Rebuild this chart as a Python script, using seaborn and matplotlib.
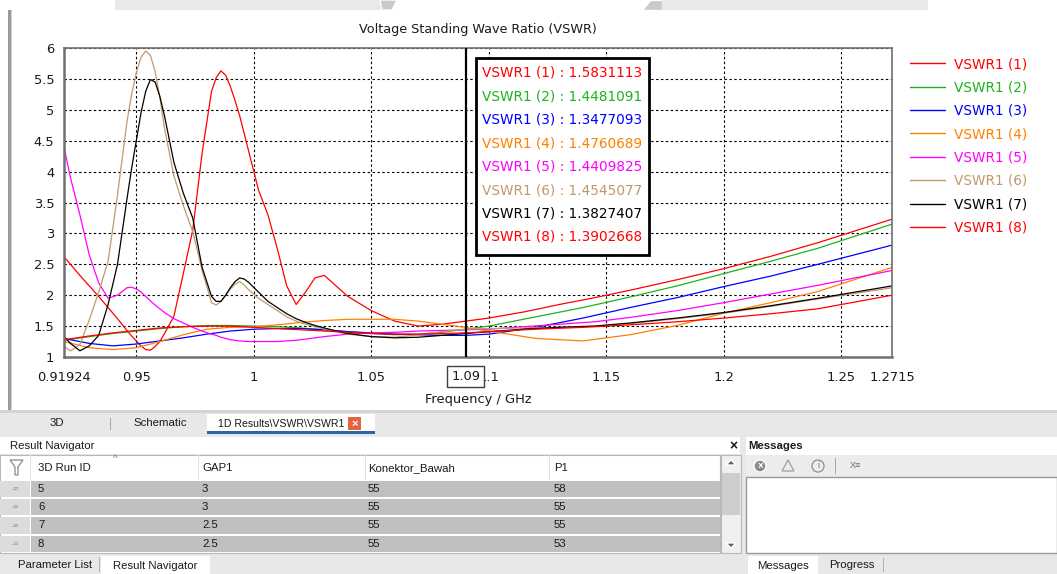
import pandas as pd
import matplotlib
matplotlib.use("Agg")
import matplotlib.pyplot as plt
import matplotlib.transforms as mtransforms
from matplotlib.patches import Rectangle, Polygon
from matplotlib.lines import Line2D
import seaborn as sns

# ---- data ----
SERIES = ["VSWR1 (1)", "VSWR1 (2)", "VSWR1 (3)", "VSWR1 (4)",
          "VSWR1 (5)", "VSWR1 (6)", "VSWR1 (7)", "VSWR1 (8)"]
COLORS = ["#ff0000", "#1db31d", "#0000ff", "#ff8000",
          "#ff00ff", "#c09a6b", "#000000", "#ff0000"]
MARKER_VALUES = ["1.5831113", "1.4481091", "1.3477093", "1.4760689",
                 "1.4409825", "1.4545077", "1.3827407", "1.3902668"]
MARKER_FREQ = 1.0902

FREQ_FINE = [0.91924, 0.922, 0.926, 0.930, 0.934, 0.938, 0.942, 0.946, 0.948, 0.950,
             0.952, 0.954, 0.956, 0.958, 0.960, 0.962, 0.966, 0.970, 0.974, 0.978,
             0.982, 0.984, 0.986, 0.988, 0.990, 0.992, 0.994, 0.996, 0.998, 1.002,
             1.006, 1.010, 1.014, 1.018, 1.022, 1.026, 1.030, 1.035, 1.040, 1.050,
             1.060, 1.070, 1.080, 1.090, 1.100, 1.115, 1.130, 1.145, 1.160, 1.180,
             1.200, 1.220, 1.240, 1.2715]
FREQ_COARSE = [0.91924, 0.93, 0.94, 0.95, 0.96, 0.97, 0.98, 0.99, 1.00, 1.01,
               1.02, 1.03, 1.04, 1.05, 1.06, 1.07, 1.08, 1.09, 1.10, 1.12,
               1.14, 1.16, 1.18, 1.20, 1.22, 1.24, 1.2715]

vswr1 = [2.62, 2.50, 2.32, 2.15, 1.98, 1.80, 1.62, 1.43, 1.34, 1.26,
         1.18, 1.12, 1.11, 1.17, 1.25, 1.38, 1.66, 2.35, 3.05, 4.30,
         5.30, 5.52, 5.63, 5.56, 5.38, 5.15, 4.90, 4.60, 4.30, 3.70,
         3.30, 2.75, 2.15, 1.85, 2.05, 2.28, 2.32, 2.15, 1.98, 1.75,
         1.58, 1.50, 1.53, 1.58, 1.63, 1.73, 1.85, 1.96, 2.08, 2.25,
         2.43, 2.63, 2.85, 3.23]
vswr2 = [1.27, 1.33, 1.38, 1.42, 1.46, 1.49, 1.51, 1.51, 1.50, 1.49,
         1.47, 1.44, 1.41, 1.38, 1.36, 1.37, 1.40, 1.45, 1.50, 1.65,
         1.80, 1.97, 2.15, 2.35, 2.55, 2.76, 3.15]
vswr3 = [1.30, 1.22, 1.18, 1.21, 1.26, 1.31, 1.37, 1.42, 1.45, 1.46,
         1.46, 1.44, 1.41, 1.39, 1.37, 1.36, 1.35, 1.35, 1.37, 1.48,
         1.63, 1.80, 1.96, 2.14, 2.31, 2.50, 2.81]
vswr4 = [1.25, 1.15, 1.12, 1.15, 1.25, 1.36, 1.45, 1.48, 1.49, 1.52,
         1.56, 1.59, 1.61, 1.61, 1.61, 1.58, 1.53, 1.48, 1.42, 1.30,
         1.26, 1.36, 1.51, 1.71, 1.88, 2.06, 2.45]
vswr5 = [4.40, 3.90, 3.30, 2.65, 2.20, 1.95, 2.00, 2.12, 2.13, 2.10,
         2.05, 1.98, 1.91, 1.84, 1.78, 1.72, 1.62, 1.55, 1.48, 1.42,
         1.37, 1.35, 1.32, 1.30, 1.28, 1.27, 1.26, 1.255, 1.25, 1.25,
         1.25, 1.25, 1.26, 1.27, 1.29, 1.31, 1.33, 1.35, 1.37, 1.39,
         1.40, 1.42, 1.43, 1.44, 1.45, 1.49, 1.53, 1.57, 1.64, 1.75,
         1.88, 2.02, 2.16, 2.40]
vswr6 = [1.17, 1.10, 1.20, 1.60, 2.05, 2.55, 3.62, 4.80, 5.25, 5.60,
         5.85, 5.95, 5.88, 5.62, 5.20, 4.70, 3.93, 3.45, 3.03, 2.40,
         1.88, 1.84, 1.90, 2.00, 2.10, 2.18, 2.22, 2.16, 2.08, 1.95,
         1.85, 1.75, 1.65, 1.58, 1.53, 1.49, 1.45, 1.41, 1.37, 1.33,
         1.32, 1.36, 1.41, 1.45, 1.46, 1.47, 1.48, 1.50, 1.54, 1.62,
         1.71, 1.82, 1.94, 2.12]
vswr7 = [1.33, 1.22, 1.10, 1.18, 1.35, 1.85, 2.50, 3.55, 4.05, 4.50,
         4.95, 5.30, 5.49, 5.45, 5.22, 4.90, 4.15, 3.65, 3.25, 2.45,
         1.98, 1.90, 1.90, 2.00, 2.12, 2.22, 2.28, 2.26, 2.20, 2.05,
         1.90, 1.80, 1.70, 1.62, 1.56, 1.51, 1.47, 1.42, 1.38, 1.33,
         1.31, 1.32, 1.35, 1.38, 1.41, 1.45, 1.48, 1.50, 1.55, 1.63,
         1.72, 1.83, 1.95, 2.15]
vswr8 = [1.28, 1.34, 1.39, 1.43, 1.47, 1.49, 1.50, 1.50, 1.48, 1.46,
         1.44, 1.42, 1.40, 1.38, 1.37, 1.37, 1.38, 1.39, 1.41, 1.45,
         1.48, 1.52, 1.57, 1.63, 1.70, 1.78, 2.00]

XTICKS = [0.91924, 0.95, 1.0, 1.05, 1.1, 1.15, 1.2, 1.25, 1.2715]
XTICK_LABELS = ["0.91924", "0.95", "1", "1.05", "1.1", "1.15", "1.2", "1.25", "1.2715"]
YTICKS = [1, 1.5, 2, 2.5, 3, 3.5, 4, 4.5, 5, 5.5, 6]
YTICK_LABELS = ["1", "1.5", "2", "2.5", "3", "3.5", "4", "4.5", "5", "5.5", "6"]

# result navigator table
TABLE_HEADER = ["3D Run ID", "GAP1", "Konektor_Bawah", "P1"]
RUN_ID = ["5", "6", "7", "8"]
GAP1 = ["3", "3", "2.5", "2.5"]
KONEKTOR = ["55", "55", "55", "55"]
P1 = ["58", "55", "55", "53"]

# ---- build long table ----
freqs = [FREQ_FINE, FREQ_COARSE, FREQ_COARSE, FREQ_COARSE,
         FREQ_FINE, FREQ_FINE, FREQ_FINE, FREQ_COARSE]
values = [vswr1, vswr2, vswr3, vswr4, vswr5, vswr6, vswr7, vswr8]
frames = []
for name, fr, v in zip(SERIES, freqs, values):
    frames.append(pd.DataFrame({"freq": fr, "vswr": v, "series": name}))
df = pd.concat(frames, ignore_index=True)

sns.set_theme(style="white")
plt.rcParams["font.family"] = ["DejaVu Sans"]

W, H = 1057, 574
fig = plt.figure(figsize=(W / 100, H / 100), dpi=100)
fig.patch.set_facecolor("white")

# overlay for the window chrome, in pixel coordinates
ui = fig.add_axes([0, 0, 1, 1], zorder=0)
ui.set_xlim(0, W)
ui.set_ylim(H, 0)
ui.axis("off")


def box(x0, y0, x1, y1, fc, ec="none", lw=0):
    ui.add_patch(Rectangle((x0, y0), x1 - x0, y1 - y0, facecolor=fc,
                           edgecolor=ec, linewidth=lw))


def label(x, y, s, size=8.2, ha="left", weight="normal", color="#1a1a1a"):
    ui.text(x, y, s, fontsize=size, ha=ha, va="center", fontweight=weight,
            color=color, family="Liberation Sans")


# ---- main chart ----
ax = fig.add_axes([64 / W, 1 - 357 / H, 828 / W, 309 / H], zorder=2)
sns.lineplot(data=df, x="freq", y="vswr", hue="series",
             palette=dict(zip(SERIES, COLORS)), estimator=None,
             linewidth=0.9, legend=False, ax=ax)
ax.set_xlim(0.91924, 1.2715)
ax.set_ylim(1, 6)
ax.set_xticks(XTICKS)
ax.set_xticklabels(XTICK_LABELS)
ax.set_yticks(YTICKS)
ax.set_yticklabels(YTICK_LABELS)
ax.set_xlabel("")
ax.set_ylabel("")
ax.grid(True, color="black", linestyle=(0, (2.2, 2.2)), linewidth=0.8)
ax.tick_params(direction="out", length=4, width=1, colors="#707070",
               labelcolor="#1a1a1a", labelsize=9.4)
ax.tick_params(axis="x", pad=6)
ax.tick_params(axis="y", pad=3)
for side, sp in ax.spines.items():
    sp.set_color("#707070")
    sp.set_linewidth(1.8 if side in ("left", "bottom") else 1.2)

# marker
ax.axvline(MARKER_FREQ, color="black", lw=1.6, zorder=4)
blend = mtransforms.blended_transform_factory(ax.transData, ax.transAxes)
ax.text(MARKER_FREQ, -0.062, "1.09", transform=blend, ha="center", va="center",
        fontsize=9.4, color="#1a1a1a", zorder=6, clip_on=False,
        bbox=dict(boxstyle="square,pad=0.3", fc="white", ec="#404040", lw=1))

bx0 = (476 - 64) / 828
bx1 = (649 - 64) / 828
by_top = (357 - 58) / 309
by_bot = (357 - 255) / 309
ax.add_patch(Rectangle((bx0, by_bot), bx1 - bx0, by_top - by_bot,
                       transform=ax.transAxes, facecolor="white",
                       edgecolor="black", linewidth=2, zorder=5))
for i, (name, val, col) in enumerate(zip(SERIES, MARKER_VALUES, COLORS)):
    yc = 73 + i * 23.4
    ax.text((482 - 64) / 828, (357 - yc) / 309, f"{name} : {val}",
            transform=ax.transAxes, ha="left", va="center", fontsize=9.8,
            color=col, zorder=6)

handles = [Line2D([], [], color=c, lw=1.0) for c in COLORS]
ax.legend(handles, SERIES, loc="upper left", bbox_to_anchor=(910 / W, 1 - 57 / H),
          bbox_transform=fig.transFigure, frameon=False, fontsize=9.8,
          labelcolor=COLORS, handlelength=2.6, handletextpad=0.6,
          labelspacing=0.69, borderaxespad=0, borderpad=0)

fig.text(478 / W, 1 - 30 / H, "Voltage Standing Wave Ratio (VSWR)", ha="center",
         va="center", fontsize=9.2, color="#1a1a1a")
fig.text(478 / W, 1 - 399 / H, "Frequency / GHz", ha="center", va="center",
         fontsize=9.4, color="#1a1a1a")

# ---- window chrome ----
box(115, 0, 383, 10, "#e9e9eb")
ui.add_patch(Polygon([(380, 0), (397, 0), (392, 10), (382, 10)], fc="#cacacc"))
ui.add_patch(Polygon([(650, 0), (662, 0), (662, 10), (642, 10)], fc="#cacacc"))
box(662, 0, 928, 10, "#e9e9eb")
box(8, 10, 11, 410, "#9a9a9a")
box(11, 10, 12, 410, "#d0d0d0")

box(0, 410, W, H, "#e8e8e8")
box(0, 410, W, 413, "#d4d4d4")
box(207, 414, 375, 433, "white")
box(207, 431, 375, 434, "#2b64a8")
box(110, 418, 111, 430, "#a8a8a8")
label(57, 423, "3D", ha="center")
label(160, 423, "Schematic", ha="center")
label(218, 424, "1D Results\\VSWR\\VSWR1", size=7.6)
box(348, 417, 361, 430, "#e2653f")
label(354.5, 423.5, "×", size=8, ha="center", weight="bold", color="white")

# result navigator
box(0, 437, 740, 454, "white")
label(10, 446, "Result Navigator")
label(733, 446, "×", size=10, ha="center", weight="bold")
box(0, 455, 720, 553, "white", ec="#b8b8b8", lw=0.8)
ui.add_patch(Polygon([(10, 460), (23, 460), (18, 467), (18, 475), (15, 475), (15, 467)],
                     fc="none", ec="#8a8a8a", lw=0.9))
for xs in (30, 198, 365, 549):
    box(xs, 455, xs + 1, 480, "#e2e2e2")
label(115, 459, "^", size=6.5, ha="center", color="#707070")
col_x = [38, 202, 368, 554]
for cx, head in zip(col_x, TABLE_HEADER):
    label(cx, 468, head)
row_spans = [(481, 497), (499, 515), (517, 534), (536, 552)]
for (y0, y1), rid, gap, kon, p in zip(row_spans, RUN_ID, GAP1, KONEKTOR, P1):
    box(0, y0, 30, y1, "#dcdcdc")
    box(31, y0, 720, y1, "#c0c0c0")
    yc = (y0 + y1) / 2
    label(15, yc, "-¤", size=6, ha="center", color="#8a8a8a")
    for cx, s in zip(col_x, (rid, gap, kon, p)):
        label(cx, yc, s)
box(721, 455, 741, 553, "#f0f0f0", ec="#b8b8b8", lw=0.8)
box(722, 473, 740, 515, "#cdcdcd")
ui.add_patch(Polygon([(726, 465), (736, 465), (731, 460)], fc="#606060"))
ui.add_patch(Polygon([(726, 543), (736, 543), (731, 548)], fc="#606060"))

box(101, 556, 210, H, "white")
box(99, 557, 100, 572, "#b0b0b0")
label(55, 565, "Parameter List", ha="center")
label(155, 566, "Result Navigator", ha="center")

# messages panel
box(746, 437, W, 455, "white")
label(748, 446, "Messages", weight="bold")
box(746, 455, W, 476, "#ececec")
ui.add_patch(plt.Circle((760, 466), 6, fc="#8a8a8a"))
label(760, 466, "×", size=7, ha="center", weight="bold", color="white")
ui.add_patch(Polygon([(782, 471), (794, 471), (788, 460)], fc="none", ec="#a0a0a0", lw=0.9))
ui.add_patch(plt.Circle((818, 466), 6, fc="none", ec="#909090", lw=0.9))
label(818, 466, "i", size=6.5, ha="center", color="#707070")
box(835, 458, 836, 474, "#a8a8a8")
label(855, 465, "X≡", size=6.5, ha="center", color="#707070")
box(746, 477, W, 553, "white", ec="#9a9a9a", lw=1)
box(748, 556, 818, H, "white")
box(883, 558, 884, 572, "#b0b0b0")
label(783, 566, "Messages", ha="center")
label(852, 565, "Progress", ha="center")

fig.savefig("out.png", dpi=100, facecolor="white")
